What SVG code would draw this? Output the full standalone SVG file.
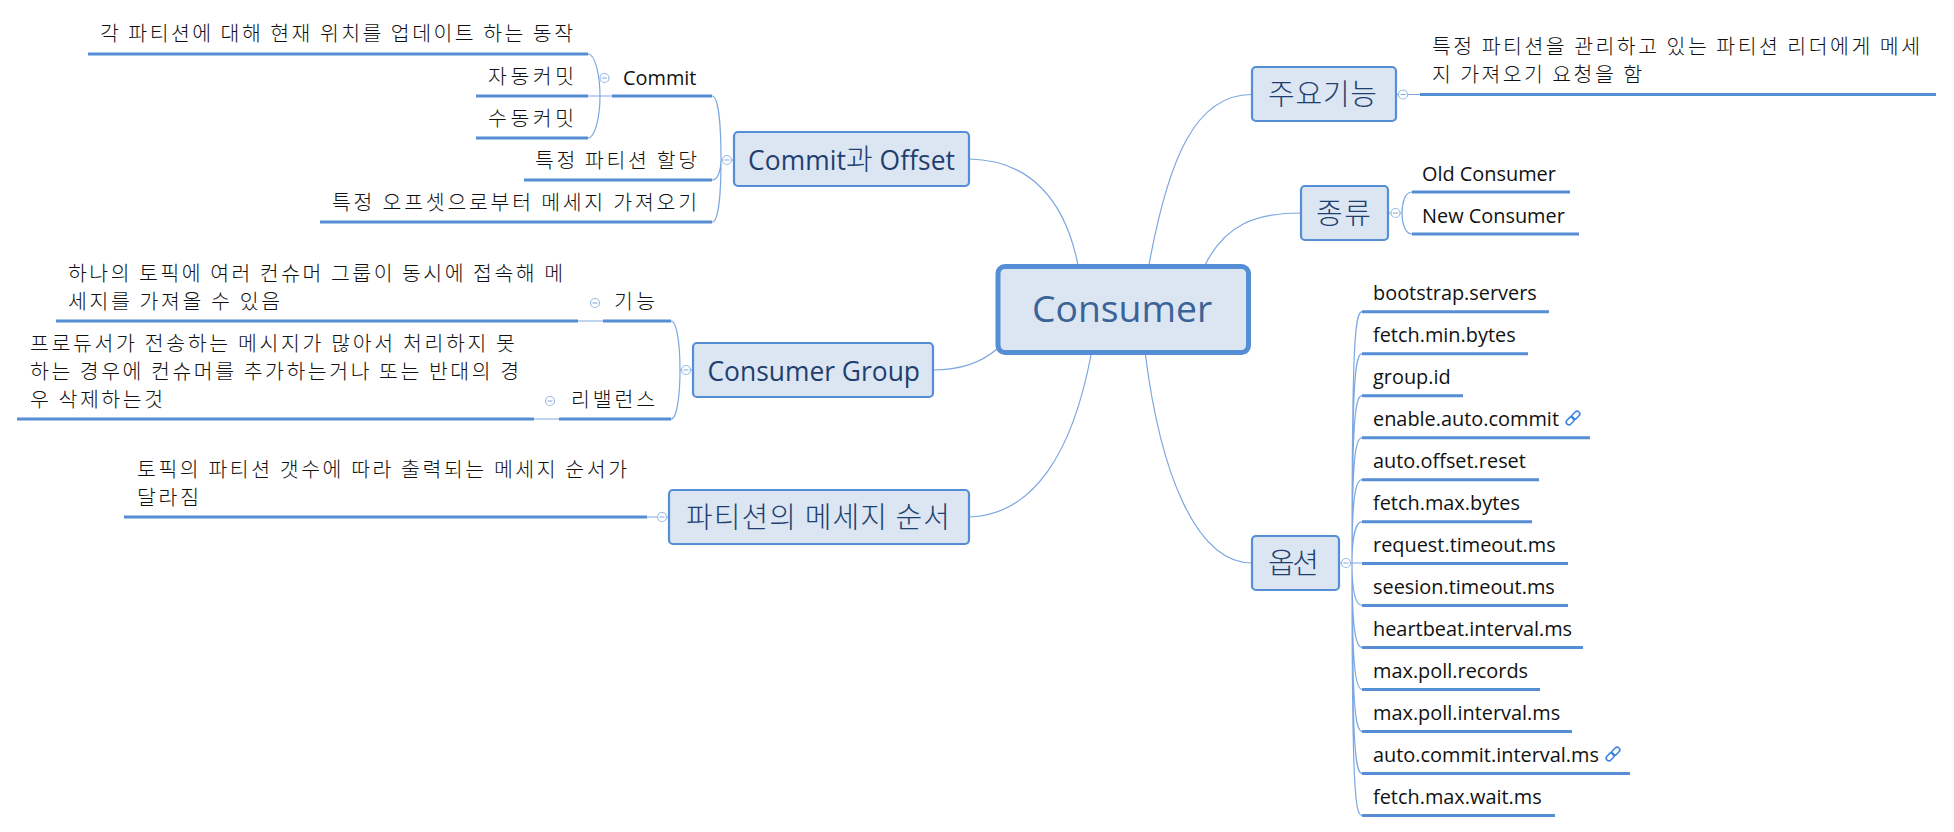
<svg xmlns="http://www.w3.org/2000/svg" width="1954" height="832" viewBox="0 0 1954 832">
<style>
text{font-family:"Open Sans","Noto Sans CJK KR",sans-serif;fill:#111}
.t{font-size:19.9px}
.k{font-family:"Noto Sans CJK KR","Open Sans",sans-serif;font-size:20.5px;font-weight:300}
.h{font-size:26.4px;fill:#1f3f6e}
.hk{font-family:"Noto Sans CJK KR","Open Sans",sans-serif;font-size:29px;font-weight:300;fill:#1f3f6e}
.box{fill:#dce6f3;stroke:#558ed5;stroke-width:2.2}
.u{stroke:#558ed5;stroke-width:3;fill:none}
.c{stroke:#7da7e0;stroke-width:1.2;fill:none}
.col circle{fill:#fff;stroke:#9bbce8;stroke-width:1.2}
.col path{stroke:#7da7e0;stroke-width:1;fill:none}
.lk{fill:none;stroke:#3f86e0;stroke-width:1.6}
</style>
<defs>
<g id="col" class="col"><circle r="4.5"/><path d="M-2.5 0H2.5"/></g>
<g id="link" class="lk"><rect x="-7.5" y="-2.7" width="9" height="5.4" rx="2.7" transform="rotate(-45) translate(-1 0)"/><rect x="-1.5" y="-2.7" width="9" height="5.4" rx="2.7" transform="rotate(-45) translate(1 0)"/></g>
</defs>
<g id="connectors">
<path class="c" d="M969 159C1030 160 1065 200 1078 265"/>
<path class="c" d="M933 370C960 370 982 362 997 349"/>
<path class="c" d="M969 517C1035 515 1073 450 1091 355"/>
<path class="c" d="M1149 265C1168 160 1195 94 1252 94.5"/>
<path class="c" d="M1205 265C1225 225 1255 213 1301 213"/>
<path class="c" d="M1145.500 355C1160 470 1195 563 1252 563"/>
<path class="c" d="M734 160H721M712 96C719 96 721 130 721 160C721 190 719 222 712 222M712 180C718 180 721 170 721 160"/>
<path class="c" d="M612 96H588M588 54C595 54 600 75 600 96C600 117 595 138 588 138"/>
<path class="c" d="M693 370H680M671 321C677 321 680 345 680 370C680 395 677 419 671 419"/>
<path class="c" d="M603 321H578M559 419H534M669 517H647"/>
<path class="c" d="M1396 94.5H1420M1388 213H1402M1412 192C1405 192 1402 203 1402 213C1402 223 1405 234 1412 234"/>
<path class="c" d="M1339 563H1362M1362 311.7C1355 312 1352 340 1352 563C1352 790 1355 815 1362 815.5M1362 353.7C1355 354 1352 380 1352 563M1362 395.7C1355 396 1352 420 1352 563M1362 437.7C1355 438 1352 460 1352 563M1362 479.7C1355 480 1352 500 1352 563M1362 521.7C1355 522 1352 540 1352 563M1352 563C1352 590 1355 605 1362 605.5M1352 563C1352 625 1355 647 1362 647.5M1352 563C1352 665 1355 689 1362 689.5M1352 563C1352 705 1355 731 1362 731.5M1352 563C1352 745 1355 773 1362 773.5"/>
</g>
<g id="consumer"><rect x="998" y="266.5" width="250.500" height="86" rx="7" fill="#dce6f3" stroke="#558ed5" stroke-width="5"/><text x="1032" y="322" style="font-size:37.3px;font-weight:500;fill:#3a6398">Consumer</text></g>
<g id="commit-offset"><rect class="box" x="734" y="132" width="235" height="54" rx="4"/><text class="h" x="748" y="169.500" textLength="207">Commit<tspan class="hk">과</tspan> Offset</text><use href="#col" x="727" y="160"/></g>
<g id="commit"><text class="t" x="623" y="84.500">Commit</text><path class="u" d="M612 96H712"/><use href="#col" x="604.5" y="78"/></g>
<g id="commit-desc"><text class="k" x="100" y="41" textLength="473">각 파티션에 대해 현재 위치를 업데이트 하는 동작</text><path class="u" d="M88 54H588"/></g>
<g id="auto-commit"><text class="k" x="488" y="84" textLength="86">자동커밋</text><path class="u" d="M476 96H588"/></g>
<g id="manual-commit"><text class="k" x="488" y="126" textLength="86">수동커밋</text><path class="u" d="M476 138H588"/></g>
<g id="partition-assign"><text class="k" x="535" y="168" textLength="162">특정 파티션 할당</text><path class="u" d="M524 180H712"/></g>
<g id="offset-fetch"><text class="k" x="332" y="210" textLength="365">특정 오프셋으로부터 메세지 가져오기</text><path class="u" d="M320 222H712"/></g>
<g id="consumer-group"><rect class="box" x="693" y="343" width="240" height="54" rx="4"/><text class="h" x="707.5" y="380.500">Consumer Group</text><use href="#col" x="686" y="370"/></g>
<g id="feature"><text class="k" x="614" y="309" textLength="41">기능</text><path class="u" d="M603 321H671"/><use href="#col" x="595" y="303"/></g>
<g id="feature-desc"><text class="k" x="68" y="281" textLength="495">하나의 토픽에 여러 컨슈머 그룹이 동시에 접속해 메</text><text class="k" x="68" y="309" textLength="212">세지를 가져올 수 있음</text><path class="u" d="M56 321H578"/></g>
<g id="rebalance"><text class="k" x="571" y="407" textLength="84">리밸런스</text><path class="u" d="M559 419H671"/><use href="#col" x="550" y="401"/></g>
<g id="rebalance-desc"><text class="k" x="30" y="351" textLength="485">프로듀서가 전송하는 메시지가 많아서 처리하지 못</text><text class="k" x="30" y="379" textLength="489">하는 경우에 컨슈머를 추가하는거나 또는 반대의 경</text><text class="k" x="30" y="407" textLength="133">우 삭제하는것</text><path class="u" d="M17 419H534"/></g>
<g id="partition-order"><rect class="box" x="669" y="490" width="300" height="54" rx="4"/><text class="hk" x="686" y="528" textLength="264">파티션의 메세지 순서</text><use href="#col" x="662" y="517"/></g>
<g id="partition-order-desc"><text class="k" x="137" y="477" textLength="490">토픽의 파티션 갯수에 따라 출력되는 메세지 순서가</text><text class="k" x="137" y="505" textLength="62">달라짐</text><path class="u" d="M124 517H647"/></g>
<g id="main-function"><rect class="box" x="1252" y="67" width="144" height="54" rx="4"/><text class="hk" x="1268" y="105" textLength="109">주요기능</text><use href="#col" x="1403" y="94.5"/></g>
<g id="main-function-desc"><text class="k" x="1432" y="54" textLength="488">특정 파티션을 관리하고 있는 파티션 리더에게 메세</text><text class="k" x="1432" y="82" textLength="210">지 가져오기 요청을 함</text><path class="u" d="M1420 94.5H1936"/></g>
<g id="types"><rect class="box" x="1301" y="186" width="87" height="54" rx="4"/><text class="hk" x="1316" y="224" textLength="55">종류</text><use href="#col" x="1395.5" y="213"/></g>
<g id="old-consumer"><text class="t" x="1422" y="180.500">Old Consumer</text><path class="u" d="M1412 192H1570"/></g>
<g id="new-consumer"><text class="t" x="1422" y="222.500">New Consumer</text><path class="u" d="M1412 234H1579"/></g>
<g id="options"><rect class="box" x="1252" y="536" width="87" height="54" rx="4"/><text class="hk" x="1268" y="574" textLength="51">옵션</text><use href="#col" x="1346" y="563"/></g>
<g id="o1"><text class="t" x="1373" y="299.500">bootstrap.servers</text><path class="u" d="M1362 311.7H1549"/></g>
<g id="o2"><text class="t" x="1373" y="341.500">fetch.min.bytes</text><path class="u" d="M1362 353.7H1528"/></g>
<g id="o3"><text class="t" x="1373" y="383.500">group.id</text><path class="u" d="M1362 395.7H1463"/></g>
<g id="o4"><text class="t" x="1373" y="425.500">enable.auto.commit</text><use href="#link" x="1573" y="418"/><path class="u" d="M1362 437.7H1590"/></g>
<g id="o5"><text class="t" x="1373" y="467.500">auto.offset.reset</text><path class="u" d="M1362 479.7H1539"/></g>
<g id="o6"><text class="t" x="1373" y="509.500">fetch.max.bytes</text><path class="u" d="M1362 521.7H1532"/></g>
<g id="o7"><text class="t" x="1373" y="551.500">request.timeout.ms</text><path class="u" d="M1362 563.5H1568"/></g>
<g id="o8"><text class="t" x="1373" y="593.500">seesion.timeout.ms</text><path class="u" d="M1362 605.5H1568"/></g>
<g id="o9"><text class="t" x="1373" y="635.500">heartbeat.interval.ms</text><path class="u" d="M1362 647.5H1583"/></g>
<g id="o10"><text class="t" x="1373" y="677.500">max.poll.records</text><path class="u" d="M1362 689.5H1540"/></g>
<g id="o11"><text class="t" x="1373" y="719.500">max.poll.interval.ms</text><path class="u" d="M1362 731.5H1572"/></g>
<g id="o12"><text class="t" x="1373" y="761.500">auto.commit.interval.ms</text><use href="#link" x="1613" y="754"/><path class="u" d="M1362 773.5H1630"/></g>
<g id="o13"><text class="t" x="1373" y="803.500">fetch.max.wait.ms</text><path class="u" d="M1362 815.5H1555"/></g>
</svg>
